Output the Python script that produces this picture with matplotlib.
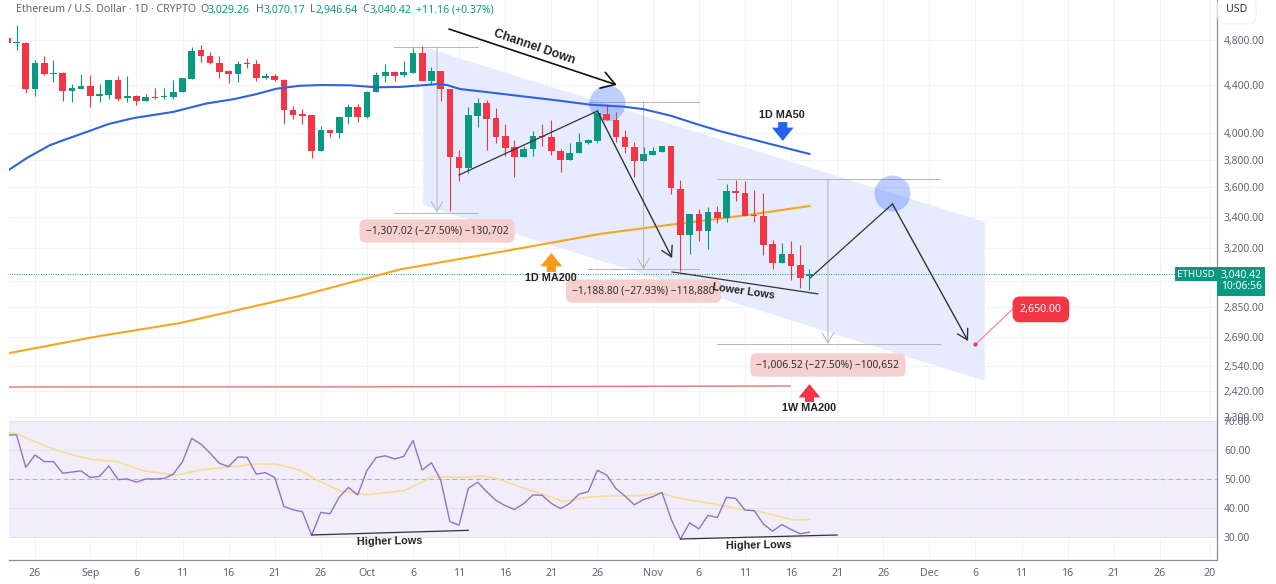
import numpy as np
import matplotlib
matplotlib.use('Agg')
import matplotlib.pyplot as plt
from matplotlib.patches import Polygon

plt.rcParams['font.family'] = ['Noto Sans', 'DejaVu Sans']

# days counted from 26 Aug
days = list(range(-3, 85))
opens = [4820, 4770, 4770, 4363, 4587, 4490, 4497, 4345, 4365, 4385, 4303, 4315, 4440, 4285, 4303, 4262, 4295, 4298, 4295, 4335,
         4447, 4703, 4657, 4593, 4515, 4491, 4587, 4578, 4453, 4471, 4440, 4190, 4153, 4145, 3864, 4028, 4007, 4133, 4210, 4133,
         4335, 4476, 4506, 4479, 4503, 4682, 4434, 4521, 4359, 3822, 3736, 4140, 4244, 4123, 3979, 3893, 3820, 3878, 3982, 3974,
         3867, 3798, 3847, 3923, 3943, 4153, 4110, 3974, 3897, 3792, 3835, 3860, 3900, 3592, 3280, 3420, 3307, 3432, 3390, 3575,
         3560, 3413, 3407, 3224, 3104, 3160, 3092, 3029.26]
highs = [4830, 4943, 4785, 4617, 4652, 4617, 4509, 4402, 4491, 4485, 4405, 4440, 4475, 4475, 4315, 4320, 4371, 4371, 4440, 4453,
         4731, 4753, 4685, 4657, 4527, 4608, 4632, 4614, 4503, 4491, 4445, 4221, 4199, 4150, 4059, 4028, 4133, 4237, 4237, 4349,
         4509, 4581, 4515, 4611, 4728, 4746, 4558, 4521, 4365, 3875, 4210, 4285, 4270, 4207, 4075, 3946, 3900, 4023, 4075, 4103,
         3880, 3925, 4007, 3956, 4175, 4237, 4168, 4028, 3936, 3893, 3896, 3905, 3903, 3650, 3408, 3453, 3466, 3470, 3622, 3655,
         3643, 3580, 3562, 3252, 3228, 3246, 3218, 3070.17]
lows = [4770, 4707, 4326, 4303, 4480, 4425, 4262, 4251, 4360, 4210, 4251, 4278, 4262, 4254, 4231, 4262, 4276, 4276, 4279, 4335,
        4447, 4597, 4581, 4459, 4417, 4423, 4545, 4432, 4450, 4432, 4072, 4113, 4072, 3813, 3864, 3971, 3963, 4075, 4088, 4125,
        4335, 4425, 4435, 4464, 4503, 4434, 4397, 4264, 3437, 3643, 3700, 4048, 3870, 3925, 3830, 3672, 3820, 3830, 3905, 3835,
        3712, 3798, 3847, 3915, 3925, 4103, 3931, 3851, 3677, 3792, 3835, 3855, 3556, 3058, 3163, 3246, 3192, 3360, 3364, 3506,
        3407, 3364, 3155, 3068, 3104, 3005, 2957, 2946.64]
closes = [4770, 4780, 4363, 4587, 4491, 4497, 4349, 4368, 4385, 4303, 4320, 4440, 4282, 4303, 4262, 4295, 4287, 4303, 4335, 4453,
          4700, 4655, 4587, 4509, 4491, 4581, 4578, 4453, 4471, 4437, 4188, 4150, 4140, 3864, 4028, 4007, 4133, 4210, 4133, 4340,
          4479, 4506, 4476, 4506, 4682, 4434, 4521, 4359, 3822, 3741, 4145, 4244, 4118, 3974, 3888, 3820, 3880, 3979, 3975, 3862,
          3798, 3850, 3931, 3948, 4160, 4103, 3969, 3893, 3792, 3840, 3865, 3900, 3596, 3280, 3420, 3307, 3432, 3390, 3575, 3560,
          3407, 3407, 3220, 3104, 3160, 3088, 3019, 3040.42]

ma50_days = [-2.8, -0.9, 1.6, 3.4, 6, 8, 10.7, 15, 18.6, 21.5, 24, 26.2, 28.7, 31, 34.2, 37, 39.6, 42.8, 43.6, 44.7, 46.1, 48.6,
             52.6, 56.9, 60.2, 63.8, 66, 68.9, 71.8, 74.3, 84]
ma50 = [3727, 3812, 3909, 3956, 4022, 4075, 4122, 4172, 4241, 4276, 4319, 4365, 4390, 4396, 4394, 4377, 4380, 4399, 4404, 4396,
        4362, 4340, 4303, 4264, 4231, 4215, 4194, 4142, 4073, 4018, 3843]
ma200_days = [-2.8, 7, 15.7, 28.7, 39.6, 50.4, 61.3, 67.8, 76.5, 84]
ma200 = [2606, 2694, 2763, 2913, 3068, 3174, 3288, 3339, 3405, 3472]
wma200_days = [-2.8, 40, 81.9]
wma200 = [2439, 2440, 2444]

rsi = [65.2, 65.2, 54, 58.3, 56, 56, 52, 52.4, 52.8, 50.5, 50.9, 54.5, 49.8, 50, 48.9, 50, 50, 50.2, 51.7, 56,
       64, 62, 58.9, 55.4, 54.3, 57.6, 57.5, 51.7, 52.2, 50.5, 40.5, 39.4, 38.7, 30.6, 38.5, 38, 43.8, 47.1, 44.5, 52.9,
       57.4, 58, 56.9, 57.8, 63.3, 53.1, 55.6, 49.7, 35.3, 34.1, 46.8, 48.9, 45.6, 42.6, 40.8, 39.5, 41.5, 44.5, 44.4, 41.6,
       39.8, 41.6, 44.8, 45.6, 53, 51.4, 46.7, 44.1, 41.1, 42.9, 43.9, 45.4, 36.1, 29.3, 34.9, 32.8, 37.5, 36.7, 43.7, 43.3,
       39.3, 39.1, 34.5, 32, 34.3, 32.6, 31.1, 31.7]
rsi_ma_days = [-2.8, -2, -0.2, 1.6, 3.4, 6, 8.9, 11.8, 15.4, 17.9, 21.5, 24, 26.2, 28.7, 30.9, 33.1, 36, 40, 43.2, 46.1, 48.6,
               50.4, 53, 54.8, 57.3, 59.8, 61.9, 65.6, 67.8, 70, 74.3, 76.5, 78.6, 82.2, 84]
rsi_ma = [66.1, 65.7, 63.2, 60.8, 58.9, 56.8, 56, 52.8, 51.3, 53.1, 54.3, 55.2, 55.1, 53.1, 49.1, 45.9, 44.6, 46, 50.8, 50.6, 51,
          49.9, 46.8, 45.1, 42.2, 43.7, 44.1, 44.3, 45.1, 43.3, 41, 39.5, 38.7, 35.9, 36]

price_ticks = [4800, 4400, 4000, 3800, 3600, 3400, 3200, 3000, 2850, 2690, 2540, 2420, 2300]
price_labels = ['4,800.00', '4,400.00', '4,000.00', '3,800.00', '3,600.00', '3,400.00', '3,200.00', '',
                '2,850.00', '2,690.00', '2,540.00', '2,420.00', '2,300.00']
rsi_ticks = [70, 60, 50, 40, 30]
date_ticks = [0, 6, 11, 16, 21, 26, 31, 36, 41, 46, 51, 56, 61, 67, 72, 77, 82, 87, 92, 97, 102, 107, 112, 117, 122, 127.4]
date_labels = ['26', 'Sep', '6', '11', '16', '21', '26', 'Oct', '6', '11', '16', '21', '26', 'Nov', '6', '11', '16', '21', '26',
               'Dec', '6', '11', '16', '21', '26', '20']

# drawings on the chart
channel_days = [42.1, 103, 103, 42.1]
channel_prices = [4735, 3365, 2468, 3479]
circle_days = [62, 93]
circle_prices = [4245, 3561]
rise_days = [46, 61, 69.1]
rise_prices = [3689, 4179, 3137]
proj_days = [84.06, 93, 101.2]
proj_prices = [3017, 3486, 2668]
measures = [
    (38.9, 48, 43.6, 4735.5, 3428, '\u22121,307.02 (\u221227.50%) \u2212130,702', 3307),
    (60, 72, 66, 4256, 3068, '\u22121,188.80 (\u221227.93%) \u2212118,880', 2941),
    (74, 98.2, 86, 3660, 2653.5, '\u22121,006.52 (\u221227.50%) \u2212100,652', 2546),
]

GREEN = '#089981'
RED = '#F23645'
GRID = '#F0F3FA'
TEXT = '#5F6470'
W, H = 1276, 584

fig = plt.figure(figsize=(W / 100, H / 100), dpi=100)
ax = fig.add_axes([9 / W, 1 - 419 / H, 1208 / W, 419 / H])
ax2 = fig.add_axes([9 / W, 1 - 560 / H, 1208 / W, 141 / H], sharex=ax)

ax.set_yscale('log')
ax.set_xlim((9 - 35) / 9.22, (1217 - 35) / 9.22)
ax.set_ylim(2291.5, 5189.6)
ax2.set_ylim(22.07, 70.69)

# axes, ticks, grid
for a in (ax, ax2):
    a.yaxis.tick_right()
    a.minorticks_off()
    a.set_xticks(date_ticks)
    a.grid(True, color=GRID, lw=0.8, zorder=0)
    a.set_axisbelow(True)
    for s in ('left', 'top', 'bottom'):
        a.spines[s].set_visible(False)
    a.spines['right'].set_color('#8A8F9C')
    a.spines['right'].set_linewidth(0.9)
ax.set_yticks(price_ticks)
ax.set_yticklabels(price_labels)
ax.minorticks_off()
ax.tick_params(axis='y', length=0, labelsize=7.4, labelcolor=TEXT, pad=5)
ax.tick_params(axis='x', length=0, labelbottom=False)
ax2.set_yticks(rsi_ticks)
ax2.set_yticklabels(['%.2f' % v for v in rsi_ticks])
ax2.set_xticklabels(date_labels)
ax2.get_xticklabels()[-1].set_fontweight('bold')
ax2.tick_params(axis='y', length=0, labelsize=7.4, labelcolor=TEXT, pad=5)
ax2.tick_params(axis='x', length=0, labelsize=7.6, labelcolor=TEXT, pad=6)
ax2.spines['bottom'].set_visible(True)
ax2.spines['bottom'].set_color('#8A8F9C')
ax2.spines['bottom'].set_linewidth(0.9)

# channel + circles
ax.add_patch(Polygon(list(zip(channel_days, channel_prices)), closed=True, fc='#E6ECFD', ec='none', zorder=1))
ax.scatter(circle_days, circle_prices, s=672, color='#2962FF', alpha=0.3, lw=0, zorder=2.7)

# last price line
ax.axhline(closes[-1], color=GREEN, lw=0.7, ls=(0, (1, 1.5)), zorder=1.5)

# moving averages
ax.plot(wma200_days, wma200, color='#E57373', lw=1.0, zorder=2)
ax.plot(ma200_days, ma200, color='#F5A623', lw=1.5, zorder=2)
ax.plot(ma50_days, ma50, color='#2F62DE', lw=1.5, zorder=4)

# candles
o = np.array(opens)
c = np.array(closes)
colors = [GREEN if b >= a else RED for a, b in zip(opens, closes)]
ax.vlines(days, lows, highs, colors=colors, lw=0.8, zorder=3)
ax.bar(days, np.abs(c - o), bottom=np.minimum(o, c), width=0.72, color=colors, lw=0, zorder=3)


def arrow(a, x0, y0, x1, y1, color='#333333', lw=1.0, style='->,head_length=0.6,head_width=0.35', zorder=6):
    a.annotate('', xy=(x1, y1), xytext=(x0, y0), zorder=zorder,
               arrowprops=dict(arrowstyle=style, color=color, lw=lw, shrinkA=0, shrinkB=0, mutation_scale=12))


# measure tools
for left, right, mid, top, bottom, label, label_price in measures:
    ax.plot([left, right], [top, top], color='#B5B5B5', lw=0.7, zorder=2.5)
    ax.plot([left, right], [bottom, bottom], color='#B5B5B5', lw=0.7, zorder=2.5)
    arrow(ax, mid, top, mid, bottom, color='#B5B5B5', lw=0.7, zorder=2.5)
    ax.text(mid, label_price, label, ha='center', va='center', fontsize=7.4, color='#333333', zorder=7,
            bbox=dict(boxstyle='round,pad=0.6', fc='#F6CFCF', ec='none'))

# trend drawings
arrow(ax, 44.9, 4904, 63.1, 4397, color='#111111', lw=1.2, style='->,head_length=0.8,head_width=0.5')
ax.plot(rise_days[:2], rise_prices[:2], color='#333333', lw=0.9, zorder=6)
arrow(ax, rise_days[1], rise_prices[1], rise_days[2], rise_prices[2])
ax.plot([69.1, 84.9], [3053, 2925], color='#333333', lw=0.9, zorder=6)
ax.plot(proj_days[:2], proj_prices[:2], color='#333333', lw=0.9, zorder=6)
arrow(ax, proj_days[1], proj_prices[1], proj_days[2], proj_prices[2])

# target
ax.plot([102, 106], [2650, 2838], color='#F28B96', lw=0.9, zorder=6)
ax.scatter([102], [2650], s=9, color=RED, lw=0, zorder=7)
ax.text(109.1, 2838, '2,650.00', ha='center', va='center', fontsize=7.6, color='white', fontweight='medium', zorder=8,
        bbox=dict(boxstyle='round,pad=0.7', fc=RED, ec='none'))

# text notes + fat arrows
bold = dict(ha='center', va='center', fontsize=7.8, color='#222222', fontweight='bold', family='Liberation Sans', zorder=8)
ax.text(54.2, 4735, 'Channel Down', rotation=-19, **{**bold, 'fontsize': 8.8})
ax.text(81, 4147, '1D MA50', **bold)
ax.text(56, 3017, '1D MA200', **bold)
ax.text(84, 2342, '1W MA200', **bold)
ax.text(76.8, 2941, 'Lower Lows', rotation=-8, **bold)
fat = 'simple,head_length=0.8,head_width=1.3,tail_width=0.55'
arrow(ax, 81.1, 4090, 81.1, 3942, color='#2962E8', lw=0, style=fat)
arrow(ax, 56, 3053, 56, 3168, color='#F59A1B', lw=0, style=fat)
arrow(ax, 84, 2369, 84, 2453, color=RED, lw=0, style=fat)

# last price labels
ax.text((1196 - 35) / 9.22, closes[-1], 'ETHUSD', ha='center', va='center', fontsize=7, color='white', zorder=8,
        bbox=dict(boxstyle='square,pad=0.25', fc=GREEN, ec='none'))
ax.text(128.6, 2998, '3,040.42\n10:06:56', ha='left', va='center', fontsize=7.4, color='white', linespacing=1.0, zorder=8,
        clip_on=False, bbox=dict(boxstyle='square,pad=0.35', fc=GREEN, ec='none'))

# RSI pane
ax2.axhspan(30, 70, color='#F1EDFA', lw=0, zorder=0.5)
ax2.grid(True, color='#E4E1F0', lw=0.7, axis='y', zorder=0.6)
ax2.axhline(50, color='#B3AEC6', lw=0.8, ls=(0, (4, 3)), zorder=1)
ax2.plot(rsi_ma_days, rsi_ma, color='#F7DD93', lw=1.2, zorder=2)
ax2.plot(days, rsi, color='#8E74C9', lw=1.0, zorder=3)
ax2.plot([30, 47], [30.7, 32.3], color='#333333', lw=0.9, zorder=4)
ax2.plot([70, 87], [29.3, 30.7], color='#333333', lw=0.9, zorder=4)
ax2.text(38.5, 28.4, 'Higher Lows', rotation=1, **bold)
ax2.text(78.5, 27, 'Higher Lows', rotation=1, **bold)


# header row
def head(x, s, color=TEXT, **kw):
    fig.text(x / W, 1 - 10 / H, s, color=color, fontsize=7.6, va='center', ha='left', **kw)


head(16, 'Ethereum / U.S. Dollar \u00b7 1D \u00b7 CRYPTO')
head(200, 'O')
head(208, '3,029.26', GREEN)
head(256, 'H')
head(263, '3,070.17', GREEN)
head(310, 'L')
head(316, '2,946.64', GREEN)
head(362, 'C')
head(370, '3,040.42', GREEN)
head(416, '+11.16 (+0.37%)', GREEN)
fig.text(1237 / W, 1 - 10 / H, 'USD', fontsize=7.6, color='#333333', ha='center', va='center',
         bbox=dict(boxstyle='round,pad=0.8', fc='white', ec='#F0F3FA'))

fig.savefig('out.png', dpi=100)
